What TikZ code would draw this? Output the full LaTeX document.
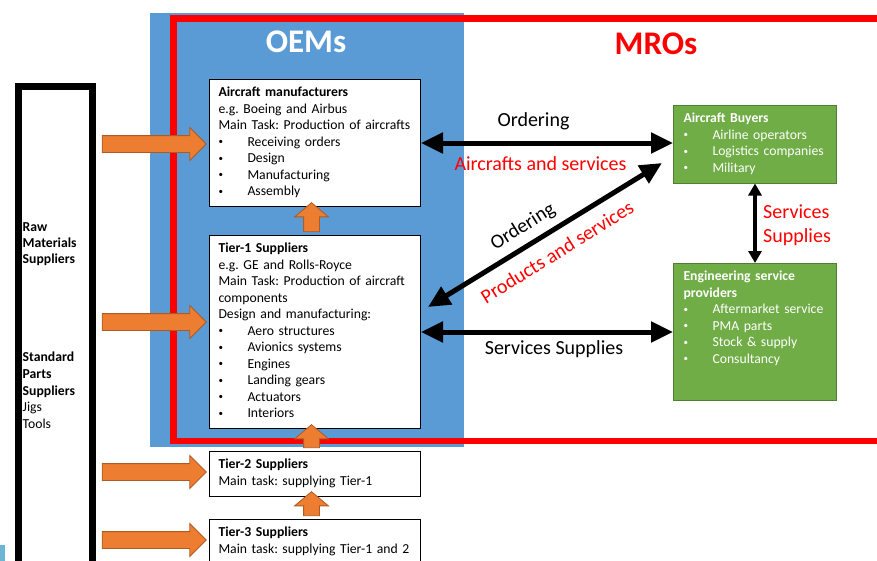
\documentclass[tikz,border=0pt]{standalone}
\usepackage{fontspec}
\setmainfont{Carlito}
\usepackage{xcolor}
\usetikzlibrary{arrows.meta,shapes.arrows}
\definecolor{oemblue}{HTML}{5B9BD5}
\definecolor{mrored}{HTML}{FF0000}
\definecolor{flowor}{HTML}{ED7D31}
\definecolor{flowedge}{HTML}{AE5A21}
\definecolor{buygreen}{HTML}{70AD47}
\definecolor{buyedge}{HTML}{507E32}
\definecolor{cornerblue}{HTML}{6BB5D6}
\newcommand{\bl}{\strut\makebox[29pt][l]{\raisebox{1.5pt}{\fontsize{9}{9}\selectfont\textbullet}}}
\frenchspacing

\begin{document}
\begin{tikzpicture}[x=1pt, y=-1pt,
  tierbox/.style={draw, fill=white, line width=1pt, anchor=north west, align=left, inner xsep=9pt, inner ysep=5.75pt, text width=193pt, font=\fontsize{13.7}{16.5}\selectfont\frenchspacing},
  buybox/.style={tierbox, draw=buyedge, fill=buygreen, text=white, inner xsep=10pt, text width=143pt},
  supply/.style={single arrow, draw=flowedge, fill=flowor, line width=.8pt, inner xsep=0pt, inner ysep=8pt, single arrow head extend=8pt},
  upsupply/.style={supply, shape border rotate=90, inner xsep=7.5pt, inner ysep=0pt, single arrow head extend=9pt, single arrow tip angle=100},
  twoway/.style={line width=5pt, {Triangle[length=22pt,width=20pt]}-{Triangle[length=22pt,width=20pt]}},
  biglabel/.style={font=\fontsize{20}{24}\selectfont, inner sep=0pt}]
 \useasboundingbox (0,0) rectangle (877,560);
 % OEM and MRO frames
 \fill[oemblue] (150,13) rectangle (464,447);
 \draw[mrored, line width=6.5pt] (173.5,18.5) rectangle (900,441);
 \fill[cornerblue] (0,545) rectangle (5,561);
 \node[white, font=\bfseries\fontsize{33}{40}\selectfont] (oem) at (306,41.5) {OEMs};
 \node[mrored, font=\bfseries\fontsize{33}{40}\selectfont] (mro) at (656,44) {MROs};
 % suppliers column
 \node[draw, line width=7pt, anchor=north west, inner sep=0pt, minimum width=74.5pt, minimum height=540pt] (sup) at (14.5,82.5) {};
 \node[anchor=north west, align=left, inner sep=0pt, font=\fontsize{13.7}{16.2}\selectfont] (raw) at (22.5,219.75) {\strut\textbf{Raw}\\\textbf{Materials}\\\textbf{Suppliers}};
 \node[anchor=north west, align=left, inner sep=0pt, font=\fontsize{13.7}{16.7}\selectfont] (std) at (22.5,349.75) {\strut\textbf{Standard}\\\textbf{Parts}\\\textbf{Suppliers}\\Jigs\\Tools};
 % tiers
 \node[tierbox] (manuf) at (209,79) {\strut\textbf{Aircraft manufacturers}\\e.g. Boeing and Airbus\\\mbox{Main Task: Production of aircrafts}\\\bl Receiving orders\\\bl Design\\\bl Manufacturing\\\bl Assembly};
 \node[tierbox] (tier1) at (209,235) {\strut\textbf{Tier-1 Suppliers}\\e.g. GE and Rolls-Royce\\\mbox{Main Task: Production of aircraft}\\components\\Design and manufacturing:\\\bl Aero structures\\\bl Avionics systems\\\bl Engines\\\bl Landing gears\\\bl Actuators\\\bl Interiors};
 \node[tierbox] (tier2) at (209,451) {\strut\textbf{Tier-2 Suppliers}\\Main task: supplying Tier-1\strut};
 \node[tierbox] (tier3) at (209,519) {\strut\textbf{Tier-3 Suppliers}\\\mbox{Main task: supplying Tier-1 and 2}\strut};
 % buyers and service providers
 \node[buybox] (buyers) at (673,105) {\strut\textbf{Aircraft Buyers}\\\bl Airline operators\\\bl Logistics companies\\\bl Military};
 \node[buybox] (esp) at (673,263) {\strut\textbf{Engineering service}\\\textbf{providers}\\\bl Aftermarket service\\\bl PMA parts\\\bl Stock \& supply\\\bl Consultancy\rule[-31.45pt]{0pt}{31.45pt}};
 % orange supply arrows
 \node[supply, minimum height=104pt] (f1) at (150,144) {};
 \node[supply, minimum height=104pt] (f2) at (150,322) {};
 \node[supply, minimum height=104pt] (f3) at (150,472) {};
 \node[supply, minimum height=104pt] (f4) at (150,540) {};
 \node[upsupply, minimum height=29pt] (u1) at (311.5,220.5) {};
 \node[upsupply, minimum height=23pt] (u2) at (311.5,439.5) {};
 \node[upsupply, minimum height=24pt] (u3) at (311.5,507) {};
 % black links
 \coordinate (d1) at (428,307);
 \coordinate (d2) at (662,163);
 \draw[twoway] (manuf.east) -- (manuf.east -| buyers.west);
 \draw[twoway] (tier1.east) -- (tier1.east -| esp.west);
 \draw[twoway] (d1) -- (d2);
 \draw[line width=4pt, {Triangle[length=12pt,width=13pt]}-{Triangle[length=12pt,width=13pt]}] (buyers.south) -- (esp.north);
 % link labels
 \node[biglabel] (ord1) at (533.5,121) {Ordering};
 \node[biglabel, mrored] (acs) at (540.5,164) {Aircrafts and services};
 \node[biglabel, rotate=32] (ord2) at (523,227) {Ordering};
 \node[biglabel, mrored, rotate=32] (pas) at (557,252) {Products and services};
 \node[biglabel] (ss1) at (554,349) {Services Supplies};
 \node[biglabel, mrored, align=left, anchor=west] (ss2) at (763,225) {Services\\Supplies};
\end{tikzpicture}
\end{document}
